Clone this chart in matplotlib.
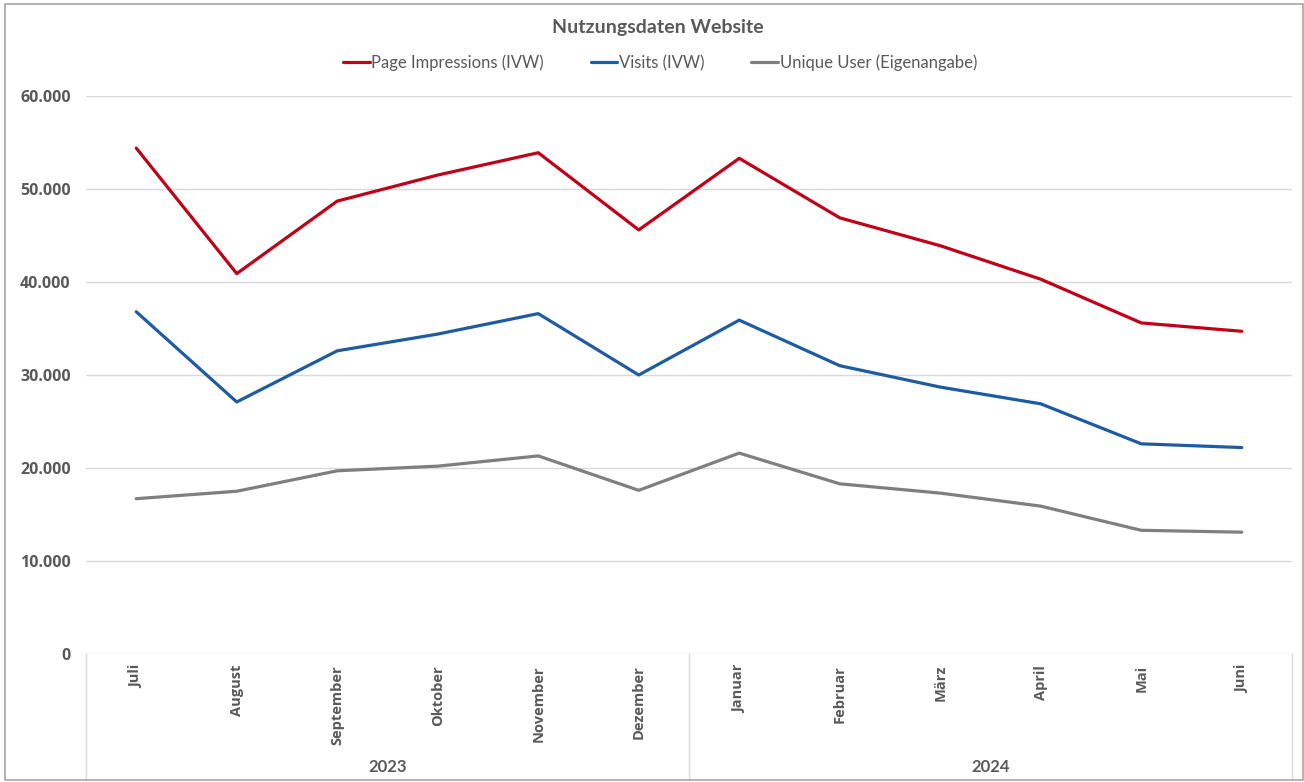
import matplotlib
matplotlib.use("Agg")
import matplotlib.pyplot as plt
import matplotlib.transforms as mtransforms
from matplotlib.ticker import FuncFormatter
from matplotlib.patches import Rectangle

months = ["Juli", "August", "September", "Oktober", "November", "Dezember",
          "Januar", "Februar", "März", "April", "Mai", "Juni"]
years = ["2023", "2024"]
page_impressions = [54400, 40900, 48700, 51500, 53900, 45600,
                    53300, 46900, 43900, 40300, 35600, 34700]
visits = [36800, 27100, 32600, 34400, 36600, 30000,
          35900, 31000, 28700, 26900, 22600, 22200]
unique_user = [16700, 17500, 19700, 20200, 21300, 17600,
               21600, 18300, 17300, 15900, 13300, 13100]
series_names = ["Page Impressions (IVW)", "Visits (IVW)", "Unique User (Eigenangabe)"]
yticks = [0, 10000, 20000, 30000, 40000, 50000, 60000]

plt.rcParams['font.family'] = ['Lato', 'DejaVu Sans']
txt = "#595959"
osans = ['Open Sans', 'DejaVu Sans']

fig = plt.figure(figsize=(13.04, 7.82), dpi=100)
fig.patches.append(Rectangle((0.004, 0.003), 0.995, 0.992, transform=fig.transFigure,
                             fill=False, edgecolor="#A6A6A6", linewidth=1.2))
ax = fig.add_axes([86/1304, (782-654)/782, (1292-86)/1304, (654-96)/782])

x = list(range(len(months)))
colors = ["#C00018", "#1F5BA0", "#7F7F7F"]
for vals, name, c in zip([page_impressions, visits, unique_user], series_names, colors):
    ax.plot(x, vals, color=c, linewidth=2.3, label=name, solid_capstyle="round",
            solid_joinstyle="round")

ax.set_xlim(-0.5, len(months) - 0.5)
ax.set_ylim(0, 60000)
ax.set_yticks(yticks)
ax.yaxis.set_major_formatter(FuncFormatter(lambda v, p: f"{int(v):,}".replace(",", ".")))
ax.grid(axis="y", color="#D9D9D9", linewidth=1)
ax.set_axisbelow(True)
for s in ax.spines.values():
    s.set_visible(False)
ax.tick_params(axis="y", length=0, pad=11, labelcolor=txt)
for lab in ax.get_yticklabels():
    lab.set_fontweight("bold")
    lab.set_fontsize(11.5)
    lab.set_family(osans)

ax.set_xticks(x)
ax.set_xticklabels(months, rotation=90, fontsize=10.5, fontweight="bold", color=txt,
                   family=osans, va="top", ha="center")
ax.tick_params(axis="x", length=0, pad=8)

trans = mtransforms.blended_transform_factory(ax.transData, ax.transAxes)
bottom = -(778 - 654) / 558
for xv in [-0.5, 5.5, 11.5]:
    ax.plot([xv, xv], [0, bottom], transform=trans, color="#D9D9D9", linewidth=1, clip_on=False)
for i, yr in enumerate(years):
    ax.text(2.5 + 6 * i, -(767 - 654) / 558, yr, transform=trans, ha="center", va="center",
            fontsize=12, fontweight="bold", color=txt)

fig.text(658/1304, 1 - 28/782, "Nutzungsdaten Website", ha="center", va="center",
         fontsize=14, fontweight="bold", color=txt)
fig.legend(loc="center", bbox_to_anchor=(660/1304, 1 - 63/782), ncol=3, frameon=False,
           fontsize=12, labelcolor=txt, handlelength=1.6, handletextpad=0.1,
           columnspacing=2.8)

fig.savefig("out.png", dpi=100)
